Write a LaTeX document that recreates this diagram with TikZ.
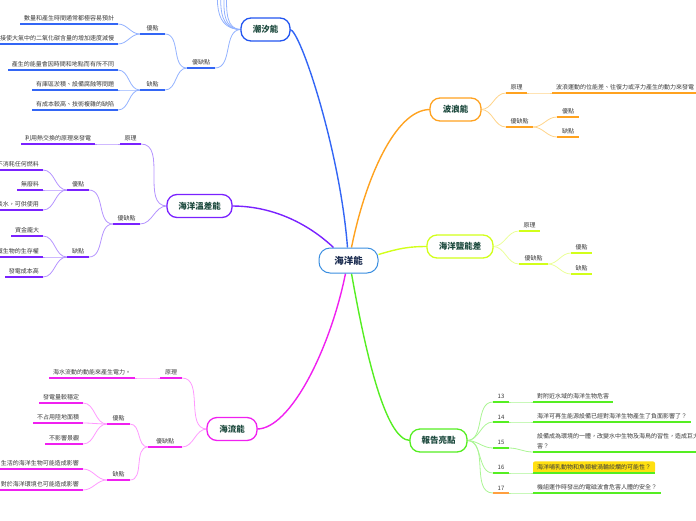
\documentclass[tikz,border=0pt]{standalone}
\usepackage{fontspec}
\newfontfamily\cjk{Noto Sans CJK TC}
\usetikzlibrary{calc}
\pgfdeclarelayer{bg}
\pgfsetlayers{bg,main}
\definecolor{bU}{HTML}{3366F5}
\definecolor{bC}{HTML}{93B2FF}
\definecolor{bB}{HTML}{2255F0}
\definecolor{pU}{HTML}{7A22FF}
\definecolor{pC}{HTML}{B594FF}
\definecolor{mU}{HTML}{F020F0}
\definecolor{mC}{HTML}{FF99FF}
\definecolor{oU}{HTML}{FFA21F}
\definecolor{oC}{HTML}{FFD48A}
\definecolor{lU}{HTML}{D2FF1A}
\definecolor{lC}{HTML}{EBFF99}
\definecolor{gU}{HTML}{55EE22}
\definecolor{gC}{HTML}{ABF594}
\definecolor{cB}{HTML}{3A8EE0}
\definecolor{ttxt}{HTML}{1D4A3E}
\definecolor{ctxt}{HTML}{1A2B4F}
\definecolor{ltxt}{HTML}{3A3A3A}
\definecolor{hl}{HTML}{FFDF10}
\definecolor{oN}{HTML}{FF9F40}
\tikzset{
 leaf/.style={font=\cjk\fontsize{6}{7.5}\selectfont, text=ltxt, inner xsep=4pt, inner ysep=3pt, outer sep=0pt},
 lleaf/.style={leaf, anchor=south east},
 rleaf/.style={leaf, anchor=south west},
 topic/.style={draw=#1, line width=1.3pt, rounded corners=10pt, fill=white, font=\cjk\bfseries\fontsize{8.5}{10}\selectfont, text=ttxt, minimum height=23pt, inner xsep=0pt, outer sep=0pt},
 ul/.style={draw=#1, line width=1.6pt},
 cn/.style={draw=#1, line width=0.8pt},
 mainc/.style={draw=#1, line width=1.4pt},
}
\begin{document}
\begin{tikzpicture}[x=1pt,y=-1pt]
\useasboundingbox (0,0) rectangle (696,520);
% centre
\node[draw=cB, line width=1pt, rounded corners=11pt, fill=white, minimum width=59pt, minimum height=25pt, font=\cjk\bfseries\fontsize{9.5}{11}\selectfont, text=ctxt] (c) at (348.5,260.5) {海洋能};
% topics
\node[topic=bB, minimum width=49pt] (T1) at (265.5,29.5) {潮汐能};
\node[topic=pU, minimum width=65pt] (T2) at (199.5,206) {海洋溫差能};
\node[topic=mU, minimum width=50pt] (T3) at (232,429) {海流能};
\node[topic=oU, minimum width=51pt] (T4) at (455.5,109.5) {波浪能};
\node[topic=lU, minimum width=66pt] (T5) at (460,246.5) {海洋鹽能差};
\node[topic=gU, minimum width=57pt] (T6) at (438.5,440.5) {報告亮點};

% ---- 潮汐能
\node[lleaf, minimum width=28pt] (t1pro) at (215,68) {優缺點};
\node[lleaf, minimum width=25pt] (t1adv) at (165,34) {優點};
\node[lleaf, minimum width=25pt] (t1dis) at (165,90) {缺點};
\node[lleaf] (t1a1) at (118,24) {數量和產生時間通常都極容易預計};
\node[lleaf] (t1a2) at (118,44) {接使大氣中的二氧化碳含量的增加速度減慢};
\node[lleaf] (t1d1) at (118,70) {產生的能量會因時間和地點而有所不同};
\node[lleaf] (t1d2) at (118,90) {有庫區淤積、設備腐蝕等問題};
\node[lleaf] (t1d3) at (118,110) {有成本較高、技術複雜的缺陷};
\coordinate (u1) at (212,-40);
\coordinate (u2) at (210,-70);
\coordinate (u3) at (208,-100);
\coordinate (u4) at (206,-130);

% ---- 海洋溫差能
\node[lleaf, minimum width=21pt] (t2pr) at (141,144) {原理};
\node[lleaf] (t2p1) at (95,144) {利用熱交換的原理來發電};
\node[lleaf, minimum width=27pt] (t2pro) at (140,224) {優缺點};
\node[lleaf, minimum width=22pt] (t2adv) at (89,190) {優點};
\node[lleaf, minimum width=22pt] (t2dis) at (89,257) {缺點};
\node[lleaf] (t2a1) at (43,170) {不消耗任何燃料};
\node[lleaf] (t2a2) at (43,190) {無廢料};
\node[lleaf] (t2a3) at (43,210) {淡水，可供使用};
\node[lleaf] (t2d1) at (43,236) {資金龐大};
\node[lleaf] (t2d2) at (43,257) {域生物的生存權};
\node[lleaf] (t2d3) at (43,277) {發電成本高};

% ---- 海流能
\node[lleaf, minimum width=22pt] (t3pr) at (182,378) {原理};
\node[lleaf] (t3p1) at (135,378) {海水流動的動能來產生電力。};
\node[lleaf, minimum width=34pt] (t3pro) at (182,447) {優缺點};
\node[lleaf, minimum width=23pt] (t3adv) at (130,424) {優點};
\node[lleaf, minimum width=23pt] (t3dis) at (130,480) {缺點};
\node[lleaf] (t3a1) at (83,403) {發電量較穩定};
\node[lleaf] (t3a2) at (83,423) {不占用陸地面積};
\node[lleaf] (t3a3) at (83,444) {不影響景觀};
\node[lleaf] (t3d1) at (83,469) {生活的海洋生物可能造成影響};
\node[lleaf] (t3d2) at (83,490) {對於海洋環境也可能造成影響};

% ---- 波浪能
\node[rleaf, minimum width=21pt] (t4pr) at (506,93) {原理};
\node[rleaf] (t4p1) at (552,93) {波浪運動的位能差、往復力或浮力產生的動力來發電。};
\node[rleaf, minimum width=27pt] (t4pro) at (506,127) {優缺點};
\node[rleaf, minimum width=22pt] (t4adv) at (557,117) {優點};
\node[rleaf, minimum width=22pt] (t4dis) at (557,137) {缺點};

% ---- 海洋鹽能差
\node[rleaf, minimum width=21pt] (t5pr) at (519,231) {原理};
\node[rleaf, minimum width=29pt] (t5pro) at (519,264) {優缺點};
\node[rleaf, minimum width=21pt] (t5adv) at (571,253) {優點};
\node[rleaf, minimum width=21pt] (t5dis) at (571,274) {缺點};

% ---- 報告亮點
\node[rleaf, minimum width=16pt] (n13) at (493,402) {13};
\node[rleaf, minimum width=16pt] (n14) at (493,422) {14};
\node[rleaf, minimum width=16pt] (n15) at (493,448) {15};
\node[rleaf, minimum width=16pt] (n16) at (493,473) {16};
\node[rleaf, minimum width=16pt] (n17) at (493,493) {17};
\node[rleaf] (r13) at (533,402) {對附近水域的海洋生物危害};
\node[rleaf] (r14) at (533,422) {海洋可再生能源設備已經對海洋生物產生了負面影響了？};
\node[rleaf, align=left, font=\cjk\fontsize{6}{10.5}\selectfont] (r15) at (533,452) {設備成為環境的一體，改變水中生物及海鳥的習性，造成巨大\\害？};
\node[rleaf, fill=hl, rounded corners=2pt] (r16) at (533,473) {海洋哺乳動物和魚類被渦輪絞爛的可能性？};
\node[rleaf] (r17) at (533,493) {機組運作時發出的電磁波會危害人體的安全？};

% underlines
\foreach \n in {t1pro,t1adv,t1dis,t1a1,t1a2,t1d1,t1d2,t1d3} \draw[ul=bU] (\n.south west) -- (\n.south east);
\foreach \n in {t2pr,t2p1,t2pro,t2adv,t2dis,t2a1,t2a2,t2a3,t2d1,t2d2,t2d3} \draw[ul=pU] (\n.south west) -- (\n.south east);
\foreach \n in {t3pr,t3p1,t3pro,t3adv,t3dis,t3a1,t3a2,t3a3,t3d1,t3d2} \draw[ul=mU] (\n.south west) -- (\n.south east);
\foreach \n in {t4pr,t4p1,t4pro,t4adv,t4dis} \draw[ul=oU] (\n.south west) -- (\n.south east);
\foreach \n in {t5pr,t5pro,t5adv,t5dis} \draw[ul=lU] (\n.south west) -- (\n.south east);
\foreach \n in {n13,n14,n15,n16,r13,r14,r15,r16,r17} \draw[ul=gU] (\n.south west) -- (\n.south east);
\draw[ul=oN] (n17.south west) -- (n17.south east);

\begin{pgfonlayer}{bg}
% main connectors
\draw[mainc=bU] ([xshift=-1pt]c.north) .. controls (340,150) and (300,29.5) .. (T1.east);
\draw[mainc=oU] ([xshift=3pt]c.north) .. controls (365,180) and (395,109.5) .. (T4.west);
\draw[mainc=pU] ([xshift=-15pt]c.north) .. controls (315,230) and (280,206) .. (T2.east);
\draw[mainc=lU] ([yshift=6pt]c.east) .. controls (400,248) and (410,246.5) .. (T5.west);
\draw[mainc=mU] ([xshift=-3pt]c.south) .. controls (330,350) and (290,429) .. (T3.east);
\draw[mainc=gU] ([xshift=3pt]c.south) .. controls (365,350) and (385,440) .. (T6.west);
% 潮汐能
\foreach \u in {u1,u2,u3,u4} \draw[cn=bC] (T1.west) to[out=180,in=0] (\u);
\draw[cn=bC] (T1.west) to[out=180,in=0] (t1pro.south east);
\foreach \n in {t1adv,t1dis} \draw[cn=bC] (t1pro.south west) to[out=180,in=0] (\n.south east);
\foreach \n in {t1a1,t1a2} \draw[cn=bC] (t1adv.south west) to[out=180,in=0] (\n.south east);
\foreach \n in {t1d1,t1d2,t1d3} \draw[cn=bC] (t1dis.south west) to[out=180,in=0] (\n.south east);
% 溫差能
\foreach \n in {t2pr,t2pro} \draw[cn=pC] (T2.west) to[out=180,in=0] (\n.south east);
\draw[cn=pC] (t2pr.south west) to[out=180,in=0] (t2p1.south east);
\foreach \n in {t2adv,t2dis} \draw[cn=pC] (t2pro.south west) to[out=180,in=0] (\n.south east);
\foreach \n in {t2a1,t2a2,t2a3} \draw[cn=pC] (t2adv.south west) to[out=180,in=0] (\n.south east);
\foreach \n in {t2d1,t2d2,t2d3} \draw[cn=pC] (t2dis.south west) to[out=180,in=0] (\n.south east);
% 海流能
\foreach \n in {t3pr,t3pro} \draw[cn=mC] (T3.west) to[out=180,in=0] (\n.south east);
\draw[cn=mC] (t3pr.south west) to[out=180,in=0] (t3p1.south east);
\foreach \n in {t3adv,t3dis} \draw[cn=mC] (t3pro.south west) to[out=180,in=0] (\n.south east);
\foreach \n in {t3a1,t3a2,t3a3} \draw[cn=mC] (t3adv.south west) to[out=180,in=0] (\n.south east);
\foreach \n in {t3d1,t3d2} \draw[cn=mC] (t3dis.south west) to[out=180,in=0] (\n.south east);
% 波浪能
\foreach \n in {t4pr,t4pro} \draw[cn=oC] (T4.east) to[out=0,in=180] (\n.south west);
\draw[cn=oC] (t4pr.south east) to[out=0,in=180] (t4p1.south west);
\foreach \n in {t4adv,t4dis} \draw[cn=oC] (t4pro.south east) to[out=0,in=180] (\n.south west);
% 鹽能差
\foreach \n in {t5pr,t5pro} \draw[cn=lC] (T5.east) to[out=0,in=180] (\n.south west);
\foreach \n in {t5adv,t5dis} \draw[cn=lC] (t5pro.south east) to[out=0,in=180] (\n.south west);
% 報告亮點
\foreach \n in {n13,n14,n15,n16,n17} \draw[cn=gC] (T6.east) to[out=0,in=180] (\n.south west);
\draw[cn=gC] (n13.south east) to[out=0,in=180] (r13.south west);
\draw[cn=gC] (n14.south east) to[out=0,in=180] (r14.south west);
\draw[cn=gC] (n15.south east) to[out=0,in=180] (r15.south west);
\draw[cn=gC] (n16.south east) to[out=0,in=180] (r16.south west);
\draw[cn=gC] (n17.south east) to[out=0,in=180] (r17.south west);
\end{pgfonlayer}
\end{tikzpicture}
\end{document}
